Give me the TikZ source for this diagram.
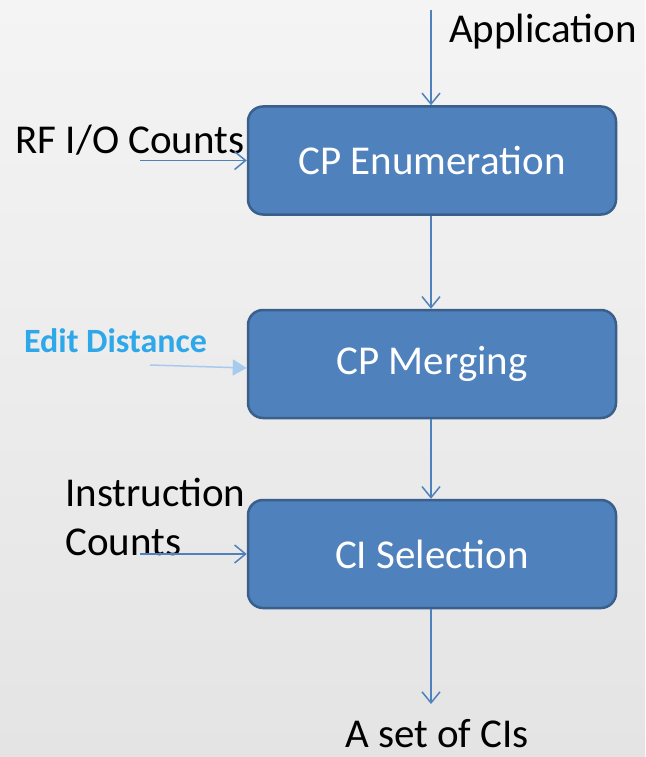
\documentclass[tikz,border=0pt]{standalone}
\usepackage{fontspec}
\setmainfont{Carlito}
\usetikzlibrary{arrows.meta}
\definecolor{boxfill}{HTML}{4F81BD}
\definecolor{boxdraw}{HTML}{3A5F8B}
\definecolor{arrowc}{HTML}{4F81BD}
\definecolor{editblue}{HTML}{2EA8E8}
\definecolor{editarrow}{HTML}{A7CBEE}
\definecolor{bgtop}{HTML}{F4F4F4}
\definecolor{bgbot}{HTML}{E4E4E4}
\tikzset{
  procbox/.style={draw=boxdraw, fill=boxfill, line width=2.5pt, rounded corners=15pt,
    minimum width=368pt, minimum height=108pt, inner sep=0pt, text=white,
    font=\fontsize{41}{49}\selectfont},
  lbl/.style={inner sep=0pt, font=\fontsize{41}{49}\selectfont, text=black},
  flow/.style={draw=arrowc, line width=1.5pt, -{Straight Barb[length=11pt,width=18pt,line width=1.5pt]}},
  editflow/.style={draw=editarrow, line width=1.5pt, -{Triangle[length=14pt,width=16pt]}}
}
\begin{document}
\begin{tikzpicture}[x=1pt,y=-1pt]
\shade[top color=bgtop, bottom color=bgbot] (0,0) rectangle (645,757);
\useasboundingbox (0,0) rectangle (645,757);

\node[procbox] (b1) at (432,160.5) {CP Enumeration};
\node[procbox] (b2) at (432,364) {CP Merging};
\node[procbox] (b3) at (432,554) {CI Selection};

\node[lbl] (app) at (543,32) {Application};
\node[lbl] (rf) at (130,140) {RF I/O Counts};
\node[inner sep=0pt, text=editblue, font=\fontsize{34}{40}\selectfont\bfseries] (ed) at (115.5,341) {Edit Distance};
\node[lbl, anchor=west, align=left] (ic) at (65,517) {Instruction\\Counts};
\node[lbl] (out) at (437,734) {A set of CIs};

\coordinate (appstart) at (431,10);
\coordinate (rfstart) at (140,160.5);
\coordinate (edstart) at (150,365);
\coordinate (icstart) at (140,554);
\coordinate (outend) at (431,704);

\draw[flow] (appstart) -- (b1.north -| appstart);
\draw[flow] (b1.south -| appstart) -- (b2.north -| appstart);
\draw[flow] (b2.south -| appstart) -- (b3.north -| appstart);
\draw[flow] (b3.south -| appstart) -- (outend);
\draw[flow] (rfstart) -- (b1.west);
\draw[editflow] (edstart) -- ([yshift=-4pt]b2.west);
\draw[flow] (icstart) -- (b3.west);
\end{tikzpicture}
\end{document}
